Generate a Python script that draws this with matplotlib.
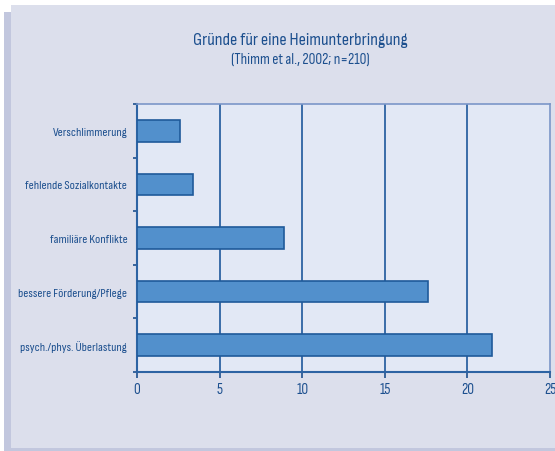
import matplotlib.pyplot as plt
from matplotlib.patches import Rectangle

categories = ["psych./phys. Überlastung", "bessere Förderung/Pflege",
              "familiäre Konflikte", "fehlende Sozialkontakte", "Verschlimmerung"]
values = [21.5, 17.6, 8.9, 3.4, 2.6]
xticks = [0, 5, 10, 15, 20, 25]

dark = "#1c4f8e"
plt.rcParams['font.family'] = ['Sofia Sans Condensed', 'DejaVu Sans']

W, H = 555, 452
fig = plt.figure(figsize=(W / 100, H / 100), dpi=100)
fig.patch.set_facecolor("white")

# panel + shadow
fig.patches.append(Rectangle((4 / W, 0), 8 / W, 1 - 13 / H, transform=fig.transFigure,
                             facecolor="#c2c7de", edgecolor="none", zorder=-5))
fig.patches.append(Rectangle((4 / W, 0), 1, 3 / H, transform=fig.transFigure,
                             facecolor="#c2c7de", edgecolor="none", zorder=-5))
fig.patches.append(Rectangle((11 / W, 3 / H), 1, 1 - 9 / H, transform=fig.transFigure,
                             facecolor="#dcdfec", edgecolor="none", zorder=-4))

ax = fig.add_axes([137 / W, 1 - 373 / H, 413 / W, 268 / H])
ax.set_facecolor("#e2e8f5")

y = range(len(categories))
ax.barh(y, values, height=0.4, color="#5290cc", edgecolor="#1f5a9a", linewidth=1.2, zorder=3)

ax.set_xlim(0, 25)
ax.set_ylim(-0.5, len(categories) - 0.5)
ax.set_xticks(xticks)
ax.set_xticklabels([str(t) for t in xticks], color=dark, fontsize=11)
ax.set_yticks(list(y))
ax.set_yticklabels(categories, color=dark, fontsize=9)
ax.set_yticks([i - 0.5 for i in range(len(categories) + 1)], minor=True)
ax.tick_params(axis='y', which='major', length=0, pad=7)
ax.tick_params(axis='y', which='minor', length=3, color=dark, width=1.2)
ax.tick_params(axis='x', length=4, color=dark, width=1.2, pad=3)

for v in xticks[1:-1]:
    ax.axvline(v, color="#2d63a3", linewidth=1.3, zorder=1)

for s in ['left', 'bottom']:
    ax.spines[s].set_color("#2d63a3")
    ax.spines[s].set_linewidth(1.5)
for s in ['top', 'right']:
    ax.spines[s].set_color("#7b96c8")
    ax.spines[s].set_linewidth(1.2)

fig.text(300 / W, 1 - 40 / H, "Gründe für eine Heimunterbringung", ha='center', va='center',
         color=dark, fontsize=13)
fig.text(300 / W, 1 - 60 / H, "(Thimm et al., 2002; n=210)", ha='center', va='center',
         color=dark, fontsize=11)

fig.savefig("out.png", dpi=100)
